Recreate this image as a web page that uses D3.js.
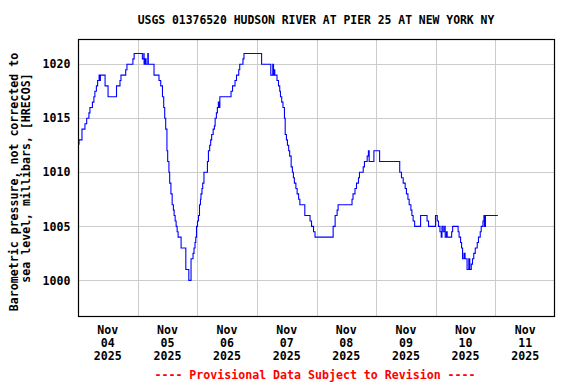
<!DOCTYPE html>
<html>
<head>
<meta charset="utf-8">
<script src="https://cdn.jsdelivr.net/npm/d3@7"></script>
<style>
html, body { margin: 0; padding: 0; background: #fff; }
svg text { font-family: "DejaVu Sans Mono", "Liberation Mono", monospace; font-weight: bold; }
</style>
</head>
<body>
<svg id="chart" width="576" height="384"></svg>
<script>
const title = "USGS 01376520 HUDSON RIVER AT PIER 25 AT NEW YORK NY";
const yLabelLines = ["Barometric pressure, not corrected to", "sea level, millibars, [HRECOS]"];
const footer = "---- Provisional Data Subject to Revision ----";
const yTicks = [1000, 1005, 1010, 1015, 1020];
const dayLabels = [["Nov","04","2025"],["Nov","05","2025"],["Nov","06","2025"],["Nov","07","2025"],
                   ["Nov","08","2025"],["Nov","09","2025"],["Nov","10","2025"],["Nov","11","2025"]];
// hours after 2025-11-04 00:00 at which the reading changes
const hours = [0,0.4,1.6,2.8,3.5,4.4,4.8,5.8,6.4,6.8,7.4,7.9,8.5,8.7,9.0,10.9,12.1,15.5,16.9,17.3,19.2,19.7,22.1,22.6,
  25.9,26.5,26.6,27.0,27.4,28.1,28.3,30.6,
  32.6,33.3,34.0,34.5,34.9,35.3,35.8,36.1,36.6,36.9,37.4,37.9,38.4,38.7,39.1,39.5,39.9,40.3,41.5,43.4,44.6,
  45.5,46.3,46.7,47.1,47.4,47.7,48.1,48.5,48.9,49.3,49.5,49.9,50.2,50.7,52.1,52.5,53.0,53.4,53.8,54.4,54.9,55.2,55.7,56.1,56.5,56.8,57.1,
  61.6,62.2,63.2,63.8,64.7,65.1,66.4,66.8,
  73.9,77.6,78.4,78.7,78.9,79.2,80.1,80.7,81.2,81.5,82.0,82.5,83.1,83.4,83.9,84.3,84.8,85.2,85.8,86.3,86.7,87.1,87.7,88.2,88.8,89.3,
  91.3,93.4,94.0,94.8,95.4,102.7,103.5,104.3,104.7,
  110.3,110.7,111.5,112.1,112.9,113.3,114.8,115.3,116.4,116.9,117.2,119.1,121.4,
  129.5,130.2,130.9,131.7,132.2,132.8,133.3,134.0,134.4,134.9,135.5,
  137.9,140.5,141.1,143.9,144.6,145.1,145.7,146.2,146.5,147.0,147.6,147.8,148.3,148.6,150.4,150.8,
  153.0,153.4,154.0,154.4,154.8,155.4,155.8,156.6,157.3,157.7,158.3,158.8,159.3,159.9,160.7,161.2,161.9,162.3,163.0,163.4,163.6,164.0,169.0];
const pressure = [1012.6,1013,1014,1014.5,1015,1015.5,1016,1016.5,1017,1017.5,1018,1018.5,1019,1018.5,1019,1018,1017,1018,1018.5,1019,1019.5,1020,1020.5,1021,
  1020.5,1021,1020,1020.5,1020,1021,1020,1019,
  1018.5,1018,1017,1016,1015,1014,1012,1011,1010,1009,1008,1007,1006.5,1006,1005.5,1005,1004.5,1004,1003,1001,1000,
  1002,1002.5,1003,1003.5,1004,1005,1005.5,1006,1007,1007.5,1008,1008.5,1009,1010,1011,1012,1012.5,1013,1013.5,1014,1014.3,1015,1015.5,1016,1016.5,1016,1017,
  1017.5,1018,1018.5,1019,1019.5,1020,1020.5,1021,
  1020,1019,1020,1019,1019.5,1019,1018.5,1018,1017.5,1017,1016.5,1016,1015,1013.5,1013,1012.5,1012,1011.5,1010.5,1010,1009.5,1009,1008.5,1008,1007.5,1007,
  1006,1005.5,1005,1004.5,1004,1005,1006,1006.5,1007,
  1007.5,1008,1008.5,1009,1009.5,1010,1010.5,1011,1011.5,1012,1011,1012,1011,
  1010,1009.5,1009,1008.5,1008,1007.5,1007,1006.5,1006,1005.5,1005,
  1006,1005.5,1005,1006,1005.5,1005,1004.5,1004,1005,1004.5,1005,1004,1004.5,1004,1004.5,1005,
  1004.5,1004,1003.5,1003,1002,1002.5,1002,1001,1002,1001,1001.5,1002,1002.5,1003,1003.5,1004,1004.5,1005,1005.5,1006,1005,1006,1006];

const start = new Date(2025, 10, 4, 0, 0);
const end = new Date(2025, 10, 12, 0, 0);
const data = hours.map((h, i) => ({ t: new Date(start.getTime() + h * 3600000), v: pressure[i] }));

const svg = d3.select("#chart");
const L = 78, R = 555, T = 39, B = 316;
const x = d3.scaleTime().domain([start, end]).range([L, R]);
const y = d3.scaleLinear().domain([996.7, 1022.34]).range([B, T]);

// grid
const days = d3.timeDay.range(d3.timeDay.offset(start, 1), end);
svg.append("g").selectAll("line").data(days).join("line")
  .attr("x1", d => Math.round(x(d)) + 0.5).attr("x2", d => Math.round(x(d)) + 0.5)
  .attr("y1", T).attr("y2", B).attr("stroke", "#cccccc").attr("stroke-width", 1);
svg.append("g").selectAll("line").data(yTicks).join("line")
  .attr("x1", L).attr("x2", R)
  .attr("y1", d => Math.round(y(d)) + 0.5).attr("y2", d => Math.round(y(d)) + 0.5)
  .attr("stroke", "#cccccc").attr("stroke-width", 1);

// data line
const line = d3.line().x(d => x(d.t)).y(d => y(d.v)).curve(d3.curveStepAfter);
svg.append("path").datum(data).attr("d", line)
  .attr("fill", "none").attr("stroke", "#0000ff").attr("stroke-width", 1.1);

// frame
svg.append("rect").attr("x", L + 0.5).attr("y", T + 0.5).attr("width", R - L - 1).attr("height", B - T)
  .attr("fill", "none").attr("stroke", "#000").attr("stroke-width", 1.2);

// y tick labels
svg.append("g").selectAll("text").data(yTicks).join("text")
  .attr("x", 70.5).attr("y", d => y(d)).attr("dy", "0.36em")
  .attr("text-anchor", "end").attr("font-size", "11.6px").attr("fill", "#000")
  .text(d => d);

// x labels
const noonDays = d3.timeDay.range(start, end);
const xg = svg.append("g").selectAll("text").data(noonDays).join("text")
  .attr("text-anchor", "middle").attr("font-size", "11.6px").attr("fill", "#000");
xg.each(function(d, i) {
  const cx = x(d3.timeHour.offset(d, 12));
  const t = d3.select(this);
  dayLabels[i].forEach((s, j) => {
    t.append("tspan").attr("x", cx).attr("y", 334 + j * 13).text(s);
  });
});

// title
svg.append("text").attr("x", 316).attr("y", 24).attr("text-anchor", "middle")
  .attr("font-size", "11.4px").attr("fill", "#000").text(title);

// y label
const ylx = [13.5, 25.5], yly = [182, 178];
yLabelLines.forEach((s, i) => {
  svg.append("text").attr("transform", `translate(${ylx[i]},${yly[i]}) rotate(-90)`)
    .attr("text-anchor", "middle").attr("dy", "0.36em")
    .attr("font-size", "11.6px").attr("fill", "#000").text(s);
});

// footer
svg.append("text").attr("x", 315).attr("y", 379).attr("text-anchor", "middle")
  .attr("font-size", "11.6px").attr("fill", "#ff0000").text(footer);
</script>
</body>
</html>
